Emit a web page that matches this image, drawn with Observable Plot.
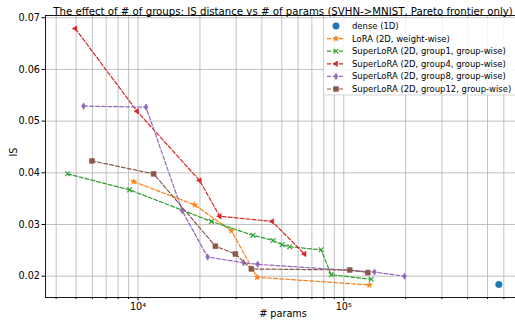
<!DOCTYPE html>
<html><head><meta charset="utf-8">
<script src="https://cdn.jsdelivr.net/npm/d3@7"></script>
<script src="https://cdn.jsdelivr.net/npm/@observablehq/plot@0.6"></script>
<style>
body{margin:0;background:#fff;}
#chart{width:515px;height:329px;overflow:hidden;}
svg{overflow:hidden;}
</style></head><body><div id="chart"></div>
<script>
const titleText = "The effect of # of groups: IS distance vs # of params (SVHN->MNIST, Pareto frontier only)";
const xLabel = "# params";
const yLabel = "IS";
const seriesNames = [
  "dense (1D)",
  "LoRA (2D, weight-wise)",
  "SuperLoRA (2D, group1, group-wise)",
  "SuperLoRA (2D, group4, group-wise)",
  "SuperLoRA (2D, group8, group-wise)",
  "SuperLoRA (2D, group12, group-wise)"
];
const denseX = [567500];
const denseY = [0.0184];
const loraX = [9520, 18840, 28430, 37900, 133300];
const loraY = [0.0383, 0.0338, 0.0288, 0.0198, 0.0183];
const g1X = [4545, 9100, 22730, 36240, 45360, 50170, 54630, 77620, 86840, 135900];
const g1Y = [0.0398, 0.0367, 0.0306, 0.0279, 0.0269, 0.0261, 0.0257, 0.0251, 0.0203, 0.0194];
const g4X = [4955, 9890, 19930, 24950, 44850, 64400];
const g4Y = [0.0679, 0.0519, 0.0385, 0.0316, 0.0306, 0.0243];
const g8X = [5437, 10940, 16370, 21800, 32620, 38170, 141000, 197300];
const g8Y = [0.0529, 0.0527, 0.0327, 0.0237, 0.0226, 0.0223, 0.0208, 0.0200];
const g12X = [5970, 11910, 23770, 29730, 35560, 106900, 130900];
const g12Y = [0.0423, 0.0398, 0.0258, 0.0243, 0.0214, 0.0212, 0.0207];
const xMajorTicks = [1e4, 1e5];
const yTicks = [0.02, 0.03, 0.04, 0.05, 0.06, 0.07];

// styling
const font = "DejaVu Sans, sans-serif";
const thinDiamond = {
  draw(ctx, size) {
    const h = Math.sqrt(size) * 0.62, w = h * 0.6;
    ctx.moveTo(0, -h); ctx.lineTo(w, 0); ctx.lineTo(0, h); ctx.lineTo(-w, 0); ctx.closePath();
  }
};
const styles = [
  {color: "#1f77b4", symbol: "circle", r: 3.3, line: false},
  {color: "#ff7f0e", symbol: "star", r: 1.9, line: true},
  {color: "#2ca02c", symbol: "times", r: 2.3, line: true, strokeOnly: true},
  {color: "#d62728", symbol: "triangle", r: 2.0, line: true, rotate: -90},
  {color: "#9467bd", symbol: thinDiamond, r: 3.0, line: true},
  {color: "#8c564b", symbol: "square", r: 2.8, line: true}
];
const xs = [denseX, loraX, g1X, g4X, g8X, g12X];
const ys = [denseY, loraY, g1Y, g4Y, g8Y, g12Y];
const series = seriesNames.map((name, i) => xs[i].map((x, j) => ({name, x, y: ys[i][j]})));

// minor grid positions of the log axis
const gridX = [];
for (let e = 3; e <= 5; e++) for (let m = 1; m <= 9; m++) gridX.push(m * 10 ** e);
const xDomain = [3550, 7.23e5];
const gridXIn = gridX.filter(v => v >= xDomain[0] && v <= xDomain[1]);
const supers = {"0":"⁰","1":"¹","2":"²","3":"³","4":"⁴","5":"⁵","6":"⁶"};

const marks = [
  Plot.gridX(gridXIn, {stroke: "#b0b0b0", strokeOpacity: 1, strokeWidth: 0.8}),
  Plot.gridY(yTicks, {stroke: "#b0b0b0", strokeOpacity: 1, strokeWidth: 0.8}),
  Plot.axisX(gridXIn.filter(v => !xMajorTicks.includes(v)), {tickSize: 2, tickFormat: () => "", stroke: "#000", label: null}),
  Plot.axisX(xMajorTicks, {tickSize: 3.5, tickPadding: 2.5, fontSize: 9.7, label: null, tickFormat: d => "10" + String(Math.round(Math.log10(d))).split("").map(c => supers[c]).join("")}),
  Plot.axisY(yTicks, {tickSize: 3.5, tickPadding: 2, fontSize: 9.7, label: null, tickFormat: d => d.toFixed(2)}),
];
series.forEach((data, i) => {
  const s = styles[i];
  if (s.line) marks.push(Plot.line(data, {x: "x", y: "y", stroke: s.color, strokeWidth: 1.2, strokeDasharray: "4,2"}));
  marks.push(Plot.dot(data, {
    x: "x", y: "y", r: s.r, symbol: s.symbol,
    fill: s.strokeOnly ? "none" : s.color,
    stroke: s.color, strokeWidth: s.strokeOnly ? 1.1 : 0.5,
    rotate: s.rotate || 0
  }));
});
marks.push(Plot.frame({stroke: "#000", strokeWidth: 0.9}));
marks.push(Plot.text([titleText], {frameAnchor: "top", dy: -8, fontSize: 10.2, fill: "#000"}));
marks.push(Plot.text([xLabel], {frameAnchor: "bottom", dy: 19.5, fontSize: 9.7, fill: "#000"}));
marks.push(Plot.text([yLabel], {frameAnchor: "left", dx: -32, rotate: -90, fontSize: 9.7, fill: "#000"}));

const chart = Plot.plot({
  width: 515, height: 329,
  marginLeft: 45, marginRight: -5, marginTop: 15, marginBottom: 32,
  style: {fontFamily: font, fontSize: "9.7px", color: "#000", background: "#fff"},
  x: {type: "log", domain: xDomain, axis: null},
  y: {domain: [0.01588, 0.07043], axis: null},
  marks
});
document.getElementById("chart").appendChild(chart);

// legend (matplotlib style box, upper right)
const svg = d3.select(chart);
const lg = svg.append("g").attr("font-family", font).attr("font-size", 8.45).attr("text-anchor", "start");
lg.append("rect").attr("x", 323.5).attr("y", 17.5).attr("width", 195).attr("height", 77.5)
  .attr("rx", 2).attr("fill", "#fff").attr("fill-opacity", 0.8).attr("stroke", "#cccccc").attr("stroke-width", 0.8);
seriesNames.forEach((name, i) => {
  const s = styles[i];
  const cy = 26 + i * 12.6;
  if (s.line) lg.append("line").attr("x1", 327).attr("x2", 345).attr("y1", cy).attr("y2", cy)
    .attr("stroke", s.color).attr("stroke-width", 1.2).attr("stroke-dasharray", "4,2");
  const symType = typeof s.symbol === "string" ? {circle: d3.symbolCircle, star: d3.symbolStar, times: d3.symbolTimes, triangle: d3.symbolTriangle, square: d3.symbolSquare}[s.symbol] : s.symbol;
  lg.append("path").attr("d", d3.symbol(symType, s.r * s.r * Math.PI)())
    .attr("transform", `translate(336,${cy}) rotate(${s.rotate || 0})`)
    .attr("fill", s.strokeOnly ? "none" : s.color).attr("stroke", s.color).attr("stroke-width", s.strokeOnly ? 1.1 : 0.5);
  lg.append("text").attr("x", 352).attr("y", cy).attr("dy", "0.35em").attr("fill", "#000").attr("text-anchor", "start").text(name);
});
</script>
</body></html>
